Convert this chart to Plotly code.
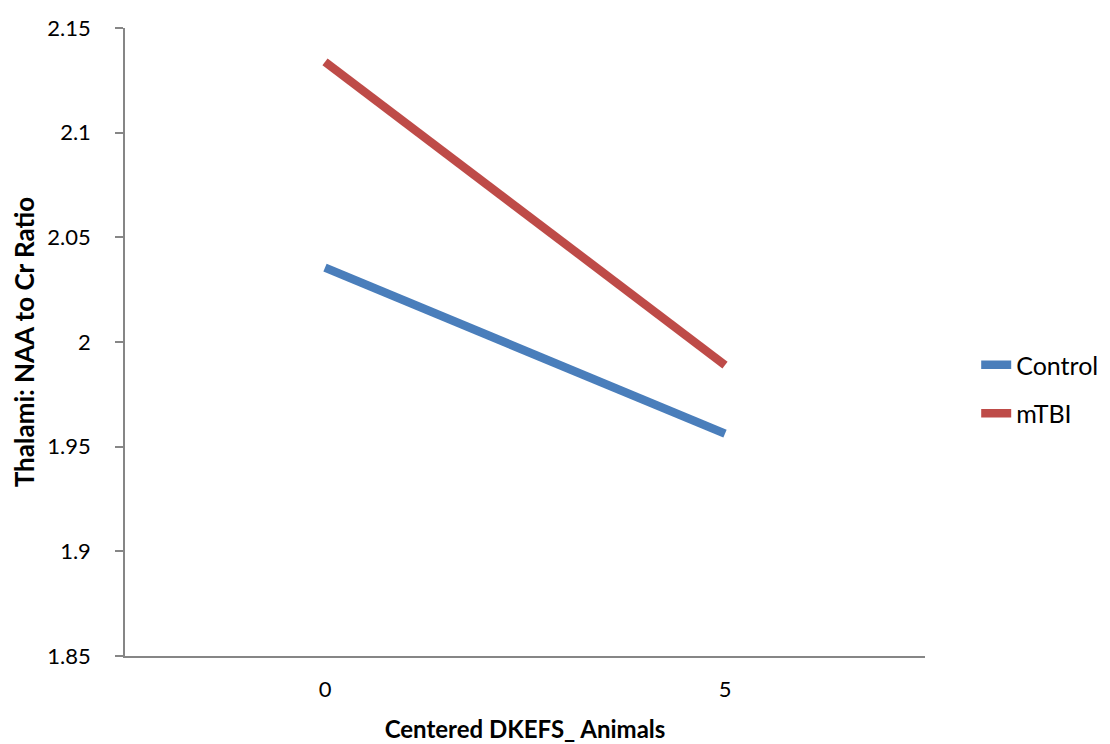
import plotly.graph_objects as go

categories = ["0", "5"]
control = [2.0355, 1.9562]
mtbi = [2.1338, 1.9890]
series_names = ["Control", "mTBI"]
series_colors = ["#4A7EBB", "#BE4B48"]
y_ticks = [1.85, 1.9, 1.95, 2.0, 2.05, 2.1, 2.15]
y_tick_labels = ["1.85", "1.9", "1.95", "2", "2.05", "2.1", "2.15"]

FONT = "Lato, 'Open Sans', sans-serif"

fig = go.Figure()
for name, vals, col in zip(series_names, [control, mtbi], series_colors):
    fig.add_trace(go.Scatter(
        x=categories, y=vals, mode="lines", name=name,
        legendgroup=name,
        line=dict(color=col, width=8.5),
    ))

fig.update_layout(
    width=1110, height=744,
    margin=dict(l=117, r=193, t=20, b=96, autoexpand=False),
    paper_bgcolor="white", plot_bgcolor="white",
    font=dict(family=FONT, size=22, color="#000000"),
    showlegend=True,
    legend=dict(x=1.064, y=0.425, xanchor="left", yanchor="middle",
                font=dict(size=25), tracegroupgap=13,
                bgcolor="rgba(0,0,0,0)"),
)

fig.update_xaxes(
    type="category", range=[-0.5, 1.5], automargin=False,
    showgrid=False, zeroline=False,
    showline=True, linecolor="#868686", linewidth=1.5,
    ticks="", ticklabelstandoff=13,
    tickfont=dict(size=22),
    title=dict(text="<b>Centered DKEFS_ Animals</b>", font=dict(size=24), standoff=20),
)
fig.update_yaxes(
    range=[1.85, 2.15], tickvals=y_ticks, ticktext=y_tick_labels,
    automargin=False,
    showgrid=False, zeroline=False,
    showline=True, linecolor="#868686", linewidth=1.5,
    ticks="outside", ticklen=8, tickcolor="#868686", tickwidth=1.5,
    ticklabelstandoff=20,
    tickfont=dict(size=22),
    title=dict(text="<b>Thalami: NAA to Cr Ratio</b>", font=dict(size=26), standoff=5),
)

fig.write_html("out.html")
